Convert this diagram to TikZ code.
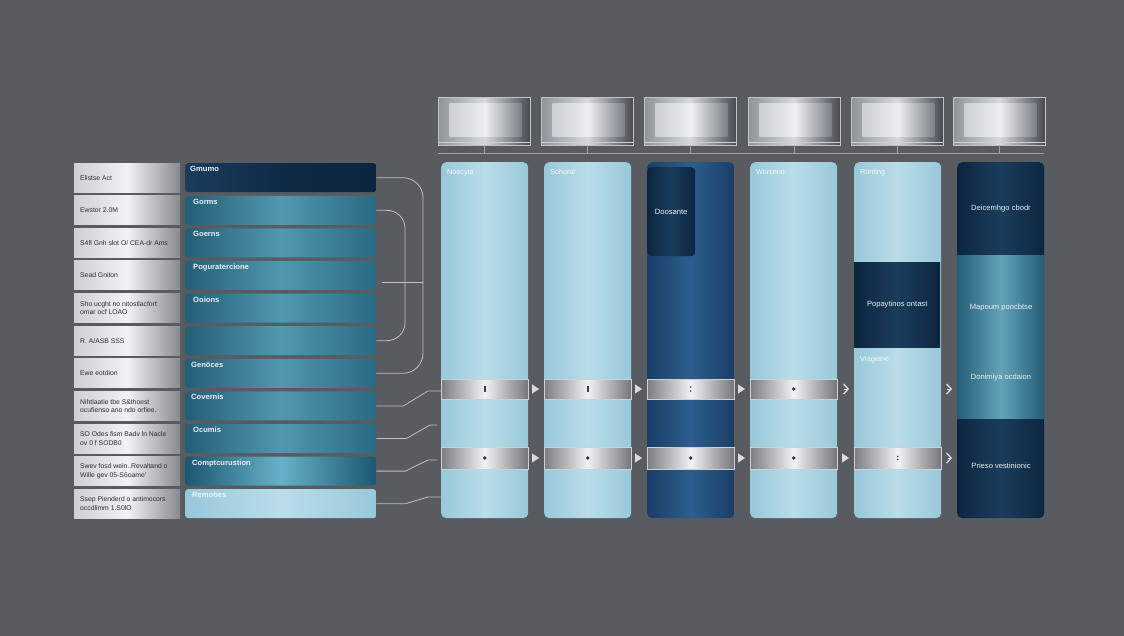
\documentclass[tikz,border=0pt]{standalone}
\usepackage{fontspec}
\setmainfont{Liberation Sans}
\usetikzlibrary{calc,arrows.meta}
\definecolor{bg}{HTML}{585C61}
\definecolor{silverL}{HTML}{CDD0D4}
\definecolor{silverM}{HTML}{F1F2F4}
\definecolor{silverR}{HTML}{878B90}
\definecolor{navyA}{HTML}{0C2540}
\definecolor{navyB}{HTML}{1A3D5C}
\definecolor{tealA}{HTML}{245E77}
\definecolor{tealB}{HTML}{5198B0}
\definecolor{tealC}{HTML}{2A6A83}
\definecolor{tealDA}{HTML}{1C5670}
\definecolor{tealDB}{HTML}{66B2CA}
\definecolor{lightA}{HTML}{98C8DA}
\definecolor{lightB}{HTML}{BADDE9}
\definecolor{colnA}{HTML}{1A3E65}
\definecolor{colnB}{HTML}{2D5E8E}
\definecolor{conn}{HTML}{BDC1C5}
\definecolor{arrowc}{HTML}{D8DCE0}
\definecolor{ltext}{HTML}{2A2E33}
\definecolor{wtext}{HTML}{E8EEF2}
\definecolor{frameL}{HTML}{8E949A}
\definecolor{frameM}{HTML}{D6DADE}
\definecolor{frameR}{HTML}{464A50}
\definecolor{scrL}{HTML}{CBCFD4}
\definecolor{scrM}{HTML}{EDEFF1}
\definecolor{scrR}{HTML}{7C828A}
\begin{document}
\begin{tikzpicture}[x=1pt,y=-1pt,
  lbox/.style={minimum width=106pt,minimum height=29pt,inner sep=0,anchor=north west,
    left color=silverL,right color=silverR,middle color=silverM},
  bar/.style={minimum width=191pt,minimum height=29pt,inner sep=0,anchor=north west,rounded corners=3pt},
  barnavy/.style={bar,left color=navyB,right color=navyA,middle color=navyA!80!navyB},
  barteal/.style={bar,left color=tealA,right color=tealC,middle color=tealB},
  bardark/.style={bar,left color=tealDA,right color=tealDA,middle color=tealDB},
  barlight/.style={bar,left color=lightA,right color=lightA,middle color=lightB},
  ltxt/.style={anchor=west,inner sep=0,align=left,text=ltext,font=\fontsize{6.8}{8.5}\selectfont},
  btxt/.style={anchor=north west,inner sep=0,text=wtext,font=\fontsize{7.6}{9}\selectfont\bfseries},
  col/.style={minimum width=87pt,minimum height=356pt,inner sep=0,anchor=north west,rounded corners=5pt},
  collight/.style={col,left color=lightA,right color=lightA,middle color=lightB},
  colnavy/.style={col,left color=colnA,right color=colnA,middle color=colnB},
  coldark/.style={col,left color=navyA,right color=navyA,middle color=navyB},
  ctxt/.style={anchor=north west,inner sep=0,text=white!92!lightA,font=\fontsize{7.2}{8}\selectfont},
  mtxt/.style={inner sep=0,text=wtext,font=\fontsize{7.6}{9}\selectfont},
  band/.style={minimum width=87pt,inner sep=0,left color=silverR!90!black,right color=silverR!85!black,
    middle color=silverM,draw=silverL,line width=0.6pt},
  conn/.style={draw=conn,line width=0.8pt},
  tri/.style={draw=arrowc,line width=0.2pt,-{Triangle[length=7pt,width=9pt,fill=arrowc]},shorten <=4pt,shorten >=5pt},
  chev/.style={draw=arrowc,line width=0.1pt,-{Straight Barb[length=4.5pt,width=10pt,line width=1.3pt]},shorten <=6pt,shorten >=5pt},
  mon/.style={minimum width=92pt,minimum height=48pt,inner sep=0,anchor=north west,
    left color=frameL,right color=frameR,middle color=frameM,draw=silverL!80!frameL,line width=0.5pt},
  scr/.style={minimum width=72pt,minimum height=33pt,inner sep=0,left color=scrL,right color=scrR,middle color=scrM},
  hline/.style={draw=conn!85!black,line width=0.7pt}
]
\useasboundingbox (0,0) rectangle (1124,636);
\fill[bg] (0,0) rectangle (1124,636);

% ---- left rows
\foreach \i/\s in {0/barnavy,1/barteal,2/barteal,3/barteal,4/barteal,5/barteal,6/barteal,7/barteal,8/barteal,9/bardark,10/barlight}{
  \pgfmathsetmacro\t{163+32.6*\i}
  \node[lbox] (L\i) at (74,\t) {};
  \node[\s] (B\i) at (185,\t) {};
}
\node[ltxt] (lt0) at ($(L0.west)+(6,0)$) {Elistse Act};
\node[ltxt] (lt1) at ($(L1.west)+(6,0)$) {Ewstor 2.0M};
\node[ltxt] (lt2) at ($(L2.west)+(6,0)$) {S4fl Gnh slot O/ CEA-dr Ams};
\node[ltxt] (lt3) at ($(L3.west)+(6,0)$) {Sead Gniton};
\node[ltxt] (lt4) at ($(L4.west)+(6,0)$) {Sho ucght no nitostlacfort\\omar ocf LOAO};
\node[ltxt] (lt5) at ($(L5.west)+(6,0)$) {R. A/ASB SSS};
\node[ltxt] (lt6) at ($(L6.west)+(6,0)$) {Ewe eotdion};
\node[ltxt] (lt7) at ($(L7.west)+(6,0)$) {Nihtlaatie tbe S\&thoest\\ocufienso ano ndo orfiee.};
\node[ltxt] (lt8) at ($(L8.west)+(6,0)$) {SO Odes fism Badv ln Nacle\\ov 0 f SODB0};
\node[ltxt] (lt9) at ($(L9.west)+(6,0)$) {Swev fosd wein..Revaltand o\\Wille gev 05-S6oame'};
\node[ltxt] (lt10) at ($(L10.west)+(6,0)$) {Ssep Pienderd o antimocors\\occdlimm 1.S0lO};

\node[btxt] (bt0) at ($(B0.north west)+(5,3)$) {Gmumo};
\node[btxt] (bt1) at ($(B1.north west)+(8,3)$) {Gorms};
\node[btxt] (bt2) at ($(B2.north west)+(8,3)$) {Goerns};
\node[btxt] (bt3) at ($(B3.north west)+(8,3)$) {Poguratercione};
\node[btxt] (bt4) at ($(B4.north west)+(8,3)$) {Ooions};
\node[btxt] (bt6) at ($(B6.north west)+(6,3)$) {Genöces};
\node[btxt] (bt7) at ($(B7.north west)+(6,3)$) {Covernis};
\node[btxt] (bt8) at ($(B8.north west)+(8,3)$) {Ocumis};
\node[btxt] (bt9) at ($(B9.north west)+(7,3)$) {Comptcurustion};
\node[btxt,text=white!80!lightA] (bt10) at ($(B10.north west)+(7,3)$) {Remobes};

% ---- header monitors
\foreach \i/\x in {1/438,2/541,3/644,4/748,5/851,6/953}{
  \node[mon] (h\i) at (\x,97) {};
  \node[scr] (s\i) at ($(h\i.center)+(1,-1)$) {};
  \draw[silverL,line width=0.9pt] ($(h\i.south west)+(1,-3)$) -- ($(h\i.south east)+(-1,-3)$);
}
\coordinate (hlL) at (438,153);
\coordinate (hlR) at (1044,153);
\draw[hline] (hlL) -- (hlR);
\foreach \i in {1,...,6}{\draw[hline] (h\i.south) -- (h\i.south |- hlL);}

% ---- columns
\node[collight] (c1) at (441,162) {};
\node[collight] (c2) at (544,162) {};
\node[colnavy]  (c3) at (647,162) {};
\node[collight] (c4) at (750,162) {};
\node[collight] (c5) at (854,162) {};
\node[coldark]  (c6) at (957,162) {};

\node[anchor=north west,minimum width=48pt,minimum height=89pt,inner sep=0,rounded corners=4pt,
  left color=navyA,right color=navyA,middle color=navyB] (c3in) at (647,167) {};
\node[anchor=north west,minimum width=86pt,minimum height=85pt,inner sep=0,
  left color=navyA,right color=navyA,middle color=navyB] (c5seg) at (854,262) {};
\node[anchor=north west,minimum width=87pt,minimum height=163pt,inner sep=0,
  left color=tealA,right color=tealA,middle color=tealB!90!white] (c6seg) at (957,255) {};

\node[ctxt] (ct1) at ($(c1.north west)+(6,7)$) {Noecyta};
\node[ctxt] (ct2) at ($(c2.north west)+(6,7)$) {Sohoral};
\node[ctxt] (ct4) at ($(c4.north west)+(6,7)$) {Worcnno};
\node[ctxt] (ct5) at ($(c5.north west)+(6,7)$) {Rönting};
\node[mtxt] (m3) at (c3in.center) {Doosante};
\node[mtxt] (m5) at (c5seg.center) {Popaytinos ontast};
\node[ctxt] (m5b) at (860,356) {Vragetne};
\node[mtxt] (m6a) at (1001,209) {Deicemhgo cbodr};
\node[mtxt] (m6b) at (1001,308) {Mapoum poocbtse};
\node[mtxt] (m6c) at (1001,378) {Donimiya ocdaion};
\node[mtxt] (m6d) at (1001,466) {Prieso vestinionic};

% ---- bands
\foreach \i in {1,...,4}{\node[band,minimum height=20pt] (b\i a) at (c\i.center |- 0,389) {};}
\foreach \i in {1,...,5}{\node[band,minimum height=22pt] (b\i b) at (c\i.center |- 0,458) {};}
\foreach \i in {1,2}{\fill[black!75] ($(b\i a.center)+(-0.8,-3)$) rectangle ($(b\i a.center)+(0.8,3)$);}
\fill[black!75] ($(b3a.center)+(0,-2)$) circle (0.9pt) ($(b3a.center)+(0,2)$) circle (0.9pt);
\fill[black!80] (b4a.center) circle (1.8pt);
\foreach \i in {1,...,4}{\fill[black!80] (b\i b.center) circle (1.8pt);}
\fill[black!75] ($(b5b.center)+(0,-1.5)$) circle (0.8pt) ($(b5b.center)+(0,1.5)$) circle (0.8pt);

% ---- arrows between columns
\draw[tri] (b1a.east) -- (c2.west |- b1a.east);
\draw[tri] (b2a.east) -- (c3.west |- b2a.east);
\draw[tri] (b3a.east) -- (c4.west |- b3a.east);
\draw[chev] (b4a.east) -- (c5.west |- b4a.east);
\draw[chev] (c5.east |- b4a.east) -- (c6.west |- b4a.east);
\draw[tri] (b1b.east) -- (c2.west |- b1b.east);
\draw[tri] (b2b.east) -- (c3.west |- b2b.east);
\draw[tri] (b3b.east) -- (c4.west |- b3b.east);
\draw[tri] (b4b.east) -- (c5.west |- b4b.east);
\draw[chev] (b5b.east) -- (c6.west |- b5b.east);

% ---- connectors
\coordinate (k1) at (423,0);
\coordinate (k2) at (405,0);
\draw[conn,rounded corners=20pt] (B0.east) -- (B0.east -| k1) -- (B6.east -| k1) -- (B6.east);
\draw[conn,rounded corners=18pt] (B1.east) -- (B1.east -| k2) -- (B5.east -| k2) -- (B5.east);
\coordinate (hx1) at (382,282);
\coordinate (hx2) at (423,282);
\draw[conn] (hx1) -- (hx2);
\draw[conn] (B7.east) -- ++(27,0) -- (428,391) -- (c1.west |- 0,391);
\draw[conn] (B8.east) -- ++(30,0) -- (430,425) -- (437,425);
\draw[conn] (B9.east) -- ++(29,0) -- (428,460) -- (437,460);
\draw[conn] (B10.east) -- ++(29,0) -- (428,497) -- (c1.west |- 0,497);
\end{tikzpicture}
\end{document}
